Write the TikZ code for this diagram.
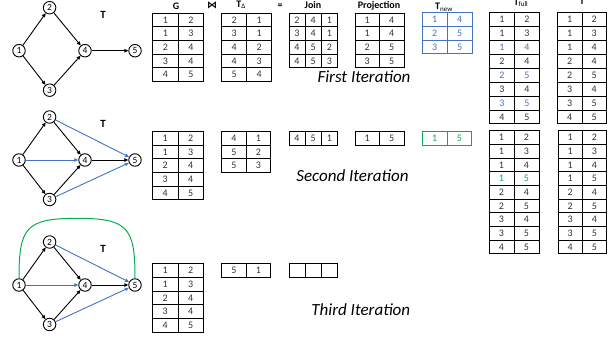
\documentclass[tikz,border=0pt]{standalone}
\usepackage{fontspec}
\setmainfont{Carlito}
\newfontfamily\symfont{DejaVu Sans}
\usetikzlibrary{arrows.meta, matrix}
\definecolor{tblue}{RGB}{68,114,196}
\definecolor{tgreen}{RGB}{0,176,80}
\definecolor{txt}{RGB}{50,50,50}
\tikzset{>=latex}
\tikzset{
  vert/.style={circle, draw, line width=0.9pt, minimum size=12.5pt, inner sep=0pt, font=\fontsize{9.5}{9.5}\selectfont},
  edge/.style={-{Triangle[length=4pt,width=3.5pt]}, line width=0.9pt},
  newedge/.style={edge, draw=tblue},
  tbl/.style={matrix of nodes, nodes in empty cells, anchor=north west, inner sep=0pt,
    column sep=-0.8pt, row sep=-0.8pt,
    nodes={draw, line width=0.8pt, inner sep=0pt, text=txt, font=\fontsize{10}{10}\selectfont, anchor=center}},
  cellsize/.style 2 args={nodes={minimum width=#1, minimum height=#2}},
  head/.style={anchor=base, font=\bfseries\fontsize{10}{10}\selectfont},
  iter/.style={anchor=base, font=\itshape\fontsize{17}{17}\selectfont}
}

\begin{document}
\begin{tikzpicture}[x=1pt, y=-1pt]
\useasboundingbox (0,0) rectangle (613,339);

% the three graphs
\foreach \k/\y in {1/50.7, 2/160, 3/285} {
  \node[vert] (n\k1) at (19,\y) {1};
  \node[vert] (n\k2) at (49.6,\y-43) {2};
  \node[vert] (n\k3) at (49.6,\y+39.5) {3};
  \node[vert] (n\k4) at (85,\y) {4};
  \node[vert] (n\k5) at (135,\y) {5};
  \node[head, anchor=center, font=\bfseries\fontsize{11}{11}\selectfont] (t\k) at (103,\y-36) {T};

  \draw[edge] (n\k1) -- (n\k2);
  \draw[edge] (n\k1) -- (n\k3);
  \draw[edge] (n\k2) -- (n\k4);
  \draw[edge] (n\k3) -- (n\k4);
  \draw[edge] (n\k4) -- (n\k5);
}
\foreach \k in {2, 3} {
  \draw[newedge] (n\k2) -- (n\k5);
  \draw[newedge] (n\k1) -- (n\k4);
  \draw[newedge] (n\k3) -- (n\k5);
}
\draw[tgreen, line width=1pt] (n31.north) .. controls (19,228) and (25.5,218.3) .. (77,218.3)
  .. controls (128.5,218.3) and (135,228) .. (n35.north);

% headers
\node[head] (hg) at (176,9.3) {G};
\node[head] (hjoin) at (212,8.3) {\symfont\bfseries ⋈};
\node[head] (hd) at (241,7.3) {T\textsubscript{\normalfont Δ}};
\node[head] (heq) at (280,8.3) {=};
\node[head] (hj) at (313,8.3) {Join};
\node[head] (hp) at (379,8.3) {Projection};
\node[head] (hn) at (444,10) {T\textsubscript{\normalfont new}};
\node[head] (hf) at (521,5.5) {T\textsubscript{\normalfont full}};
\node[head] (ht) at (582,4.5) {T};

% first iteration
\matrix (g1) [tbl, cellsize={25.5pt}{13.6pt}] at (152,12.7)
  {1 & 2\\ 1 & 3\\ 2 & 4\\ 3 & 4\\ 4 & 5\\};
\matrix (d1) [tbl, cellsize={25pt}{13.6pt}] at (221,12.7)
  {2 & 1\\ 3 & 1\\ 4 & 2\\ 4 & 3\\ 5 & 4\\};
\matrix (j1) [tbl, cellsize={16.2pt}{13.6pt}] at (288.3,12.7)
  {2 & 4 & 1\\ 3 & 4 & 1\\ 4 & 5 & 2\\ 4 & 5 & 3\\};
\matrix (p1) [tbl, cellsize={24.5pt}{13.6pt}] at (354.3,12.7)
  {1 & 4\\ 1 & 4\\ 2 & 5\\ 3 & 5\\};
\matrix (new1) [tbl, cellsize={25pt}{13.7pt}, nodes={draw=tblue, text=tblue}] at (421.5,12.2)
  {1 & 4\\ 2 & 5\\ 3 & 5\\};
\matrix (f1) [tbl, cellsize={24.8pt}{13.95pt}] at (489,11.7)
  {1 & 2\\ 1 & 3\\ |[text=tblue]| 1 & |[text=tblue]| 4\\ 2 & 4\\
   |[text=tblue]| 2 & |[text=tblue]| 5\\ 3 & 4\\ |[text=tblue]| 3 & |[text=tblue]| 5\\ 4 & 5\\};
\matrix (tt1) [tbl, cellsize={24.3pt}{13.95pt}] at (557,11.7)
  {1 & 2\\ 1 & 3\\ 1 & 4\\ 2 & 4\\ 2 & 5\\ 3 & 4\\ 3 & 5\\ 4 & 5\\};
\node[iter] (it1) at (364,83) {First Iteration};

% second iteration
\matrix (g2) [tbl, cellsize={25.3pt}{13.7pt}] at (152,130.7)
  {1 & 2\\ 1 & 3\\ 2 & 4\\ 3 & 4\\ 4 & 5\\};
\matrix (d2) [tbl, cellsize={24.5pt}{13.7pt}] at (221,130.7)
  {4 & 1\\ 5 & 2\\ 5 & 3\\};
\matrix (j2) [tbl, cellsize={16.2pt}{13.7pt}] at (288.3,130.7)
  {4 & 5 & 1\\};
\matrix (p2) [tbl, cellsize={24.5pt}{13.7pt}] at (354.3,130.7)
  {1 & 5\\};
\matrix (new2) [tbl, cellsize={24.7pt}{13.7pt}, nodes={draw=tgreen, text=tgreen}] at (421.7,130.7)
  {1 & 5\\};
\matrix (f2) [tbl, cellsize={25pt}{13.7pt}] at (488.3,130)
  {1 & 2\\ 1 & 3\\ 1 & 4\\ |[text=tgreen]| 1 & |[text=tgreen]| 5\\ 2 & 4\\ 2 & 5\\ 3 & 4\\ 3 & 5\\ 4 & 5\\};
\matrix (tt2) [tbl, cellsize={24.4pt}{13.7pt}] at (557.3,130)
  {1 & 2\\ 1 & 3\\ 1 & 4\\ 1 & 5\\ 2 & 4\\ 2 & 5\\ 3 & 4\\ 3 & 5\\ 4 & 5\\};
\node[iter] (it2) at (352.5,182) {Second Iteration};

% third iteration
\matrix (g3) [tbl, cellsize={25.3pt}{13.8pt}] at (152,262.7)
  {1 & 2\\ 1 & 3\\ 2 & 4\\ 3 & 4\\ 4 & 5\\};
\matrix (d3) [tbl, cellsize={24.5pt}{13.8pt}] at (221,262.7)
  {5 & 1\\};
\matrix (j3) [tbl, cellsize={16.2pt}{13.8pt}] at (288.3,262.7)
  { & & \\};
\node[iter] (it3) at (360.8,315) {Third Iteration};

\end{tikzpicture}
\end{document}
